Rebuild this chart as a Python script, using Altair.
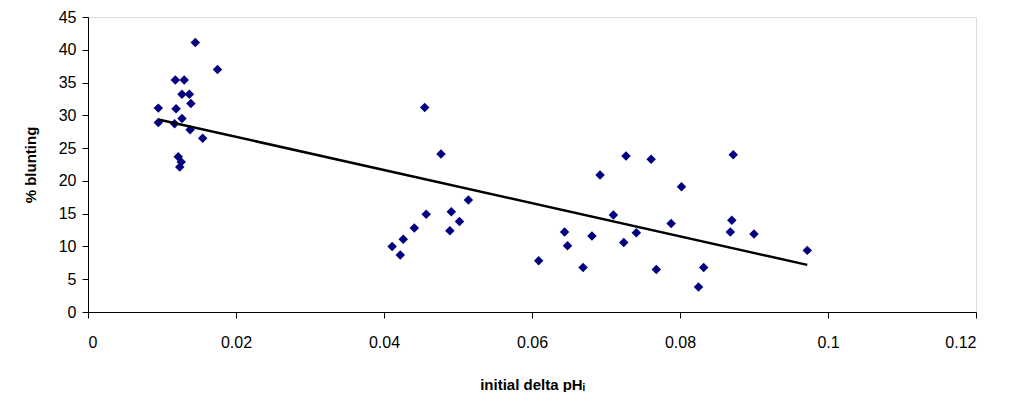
import altair as alt
import pandas as pd

delta_ph = [
    0.0095, 0.0095, 0.0119, 0.0127, 0.0117, 0.0138, 0.0155, 0.0122, 0.0126, 0.0124,
    0.0127, 0.0137, 0.0139, 0.0118, 0.0130, 0.0145, 0.0175,
    0.0455, 0.0477, 0.0514, 0.0457, 0.0491, 0.0502, 0.0441, 0.0489, 0.0426, 0.0411, 0.0422,
    0.0727, 0.0761, 0.0692, 0.0710, 0.0644, 0.0681, 0.0741, 0.0648, 0.0724, 0.0609, 0.0669, 0.0768,
    0.0872, 0.0802, 0.0788, 0.0870, 0.0868, 0.0900, 0.0972, 0.0832, 0.0825,
]
blunting = [
    31.1, 28.9, 31.0, 29.5, 28.7, 27.8, 26.5, 23.7, 22.9, 22.1,
    33.2, 33.2, 31.8, 35.4, 35.4, 41.1, 37.0,
    31.2, 24.1, 17.1, 14.9, 15.3, 13.8, 12.8, 12.4, 11.1, 10.0, 8.7,
    23.8, 23.3, 20.9, 14.8, 12.2, 11.6, 12.1, 10.1, 10.6, 7.8, 6.8, 6.5,
    24.0, 19.1, 13.5, 14.0, 12.2, 11.9, 9.4, 6.8, 3.8,
]
x_ticks = [0, 0.02, 0.04, 0.06, 0.08, 0.1, 0.12]
y_ticks = [0, 5, 10, 15, 20, 25, 30, 35, 40, 45]

df = pd.DataFrame({"x": delta_ph, "y": blunting})

font = "Liberation Sans"

common = dict(
    grid=False,
    domainColor="#000000",
    tickColor="#000000",
    tickSize=6,
    labelOverlap=False,
    labelFontSize=16,
    titleFontSize=15,
    titleFontWeight="bold",
    labelColor="#000000",
    titleColor="#000000",
    labelFont=font,
    titleFont=font,
)

xenc = alt.X(
    "x:Q",
    scale=alt.Scale(domain=[0, 0.12], nice=False, zero=True),
    axis=alt.Axis(
        title="initial delta pHᵢ",
        values=x_ticks,
        labelExpr="format(datum.value, '~g')",
        labelPadding=16,
        titlePadding=27,
        **common,
    ),
)
yenc = alt.Y(
    "y:Q",
    scale=alt.Scale(domain=[0, 45], nice=False),
    axis=alt.Axis(
        title="% blunting",
        values=y_ticks,
        labelPadding=6,
        titlePadding=20,
        **common,
    ),
)

base = alt.Chart(df).encode(x=xenc, y=yenc)

points = base.mark_point(
    shape="diamond", filled=True, size=90, color="#000080", opacity=1
)

trend = base.transform_regression("x", "y").mark_line(
    color="#000000", strokeWidth=2.5
)

chart = (
    alt.layer(points, trend)
    .properties(
        width=888,
        height=295,
        autosize=alt.AutoSizeParams(type="none"),
        padding={"left": 80, "top": 9, "right": 20, "bottom": 80},
    )
    .configure_view(stroke=None)
    .configure(background="#ffffff")
)

chart.save("out.html", embed_options={"renderer": "svg", "actions": False})
